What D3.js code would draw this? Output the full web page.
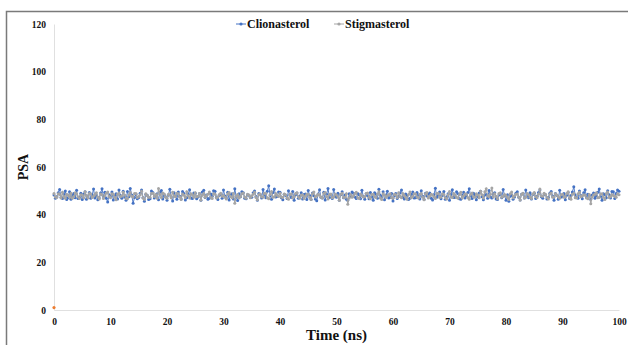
<!DOCTYPE html>
<html>
<head>
<meta charset="utf-8">
<script src="https://cdn.jsdelivr.net/npm/d3@7"></script>
<style>
  body { margin: 0; background: #fff; }
  text { font-family: "Liberation Serif", "DejaVu Serif", serif; font-weight: bold; }
</style>
</head>
<body>
<div id="chart"></div>
<script>
// time axis: 0..100 ns, sampled every 0.25 ns
const timeStep = 0.25;

const clionasterol = [
  48.2,46.9,47.5,49.2,50.6,47.3,46.8,48.5,49.9,46.4,47.1,49.6,46.5,48.0,48.9,47.1,50.2,46.8,47.3,49.0,
  46.4,48.7,49.6,46.5,47.8,49.3,46.9,48.2,50.8,47.0,48.1,46.3,47.0,49.1,50.9,47.6,49.4,46.9,45.3,48.4,
  47.6,49.5,46.2,47.9,48.8,46.6,50.3,48.0,46.9,49.8,47.4,46.1,49.7,47.5,51.0,48.3,44.8,47.2,48.6,46.7,
  47.2,49.0,50.4,47.1,45.6,48.5,48.1,46.4,46.7,49.9,49.3,47.0,47.9,48.8,46.3,49.4,50.1,46.6,48.4,47.5,
  46.0,48.3,50.7,47.4,45.7,49.2,47.8,46.5,49.5,47.7,46.6,49.7,48.9,46.2,47.1,48.6,50.5,47.0,46.8,49.1,
  49.0,46.7,47.4,48.9,46.1,49.5,50.2,47.2,48.3,46.5,46.9,48.7,47.7,50.0,49.8,47.3,46.4,48.1,48.6,46.9,
  50.3,47.8,47.0,49.4,46.2,48.3,48.8,46.6,50.9,47.4,45.9,48.8,47.5,49.6,49.2,46.9,46.7,48.4,48.1,47.2,
  47.3,49.2,49.9,47.6,46.0,48.9,48.4,47.0,50.6,48.2,47.1,49.8,52.1,48.0,46.5,49.3,50.8,47.4,47.6,49.5,
  49.4,47.1,46.3,48.6,48.0,46.8,50.0,48.3,47.2,49.7,46.1,48.4,49.1,46.9,47.8,49.2,46.6,48.5,48.7,46.4,
  50.1,48.0,46.4,49.1,47.9,46.6,45.8,48.7,50.5,47.3,47.0,49.4,46.2,48.6,51.0,47.2,48.5,46.8,50.6,47.9,
  47.3,49.0,46.0,48.4,49.6,47.1,48.2,46.5,45.9,48.8,47.7,49.5,49.0,47.4,46.8,48.9,48.4,46.7,50.2,47.6,
  46.5,48.8,47.9,46.7,49.3,47.6,46.1,49.2,48.6,46.9,50.7,48.1,47.4,49.6,46.3,48.2,49.8,47.0,47.2,48.9,
  45.7,47.9,48.9,46.8,47.6,49.1,50.4,47.3,46.6,48.7,48.0,46.4,46.9,48.5,49.5,47.0,47.1,49.3,48.3,46.6,
  50.0,47.7,46.4,49.0,47.8,48.6,49.1,46.9,46.2,48.4,51.1,47.3,48.1,49.5,46.7,48.0,49.7,46.5,47.5,48.8,
  46.0,48.5,50.5,47.2,47.3,49.6,48.8,46.7,46.5,48.1,49.4,47.0,47.9,49.3,50.9,47.8,46.8,49.0,48.2,46.3,
  47.6,49.1,49.8,47.5,46.3,48.2,48.5,46.9,50.1,47.4,47.0,48.8,49.2,46.6,46.4,48.3,48.7,47.1,50.6,48.0,
  46.1,48.4,45.6,47.7,48.3,46.5,47.4,49.0,49.6,47.3,46.2,48.6,48.9,47.0,50.3,48.1,47.1,49.2,46.6,48.5,
  49.0,46.8,47.7,49.3,50.4,47.5,46.9,48.7,48.4,46.6,47.3,49.0,49.7,47.8,46.0,48.9,48.1,46.5,50.2,47.4,
  47.5,48.9,46.3,48.1,49.3,46.8,48.0,49.5,51.7,48.3,47.2,46.9,49.9,48.0,46.7,49.2,50.5,47.3,48.6,47.9,
  46.4,48.2,49.1,46.9,47.8,49.4,50.8,47.6,46.1,48.8,48.5,47.1,50.0,48.4,47.0,49.7,49.6,46.8,48.9,50.3,
  49.8
];

const stigmasterol = [
  48.9,47.4,47.2,48.8,48.5,47.0,49.4,47.6,46.9,48.6,48.1,47.3,49.0,46.9,47.5,49.2,48.7,47.5,46.8,48.4,
  48.3,47.1,49.6,48.0,47.0,48.9,48.8,47.2,47.7,48.5,49.2,47.4,46.6,48.7,48.4,46.8,47.9,49.0,49.5,47.6,
  47.1,48.8,48.6,47.3,46.3,48.6,49.1,47.5,47.8,49.4,48.2,46.9,46.7,48.3,49.3,47.7,47.4,48.9,48.9,47.2,
  47.6,48.4,49.8,47.0,46.5,48.8,48.0,47.3,47.3,48.9,49.0,47.6,48.5,46.9,51.0,48.5,47.2,49.1,48.7,47.4,
  46.9,48.6,48.3,47.1,49.4,47.8,47.5,49.0,48.8,47.4,46.4,48.7,48.1,47.2,49.6,47.9,47.0,48.8,48.4,47.3,
  49.2,47.5,47.7,48.9,46.2,48.1,48.9,47.3,47.9,48.6,49.5,47.2,46.8,48.8,48.6,47.0,47.4,48.5,49.0,47.7,
  48.0,47.3,46.6,48.7,49.3,47.6,47.1,48.9,44.8,47.7,48.5,47.0,47.6,48.8,49.1,47.4,46.9,48.6,48.2,47.1,
  47.8,48.6,49.4,47.2,46.3,48.4,48.7,47.5,47.3,49.0,48.9,47.1,46.7,48.5,49.7,47.3,47.5,48.9,48.1,47.6,
  49.0,47.4,47.2,48.7,48.4,47.1,46.5,48.5,48.8,47.0,47.6,48.9,49.2,47.5,46.9,48.2,48.3,46.8,47.7,48.6,
  48.6,47.2,46.4,48.8,49.5,47.4,47.9,48.6,48.1,47.3,47.0,48.9,49.3,47.6,46.6,48.4,48.7,47.1,47.4,48.7,
  48.2,47.5,46.1,48.6,49.0,47.2,47.3,48.8,44.4,47.0,48.5,47.3,47.8,48.9,49.4,47.1,46.8,48.7,48.0,47.4,
  47.5,48.9,49.1,47.3,46.7,48.5,48.6,47.4,47.2,48.7,49.6,47.0,46.4,48.8,48.3,47.2,47.9,48.4,48.8,47.1,
  46.9,48.6,48.4,47.2,49.2,47.7,47.1,48.9,48.0,47.3,46.5,48.5,49.5,47.1,47.6,48.8,48.7,47.4,47.0,48.6,
  48.9,47.3,46.3,48.7,49.3,47.0,47.7,48.6,48.2,47.5,46.8,48.9,49.0,47.2,47.4,48.8,48.5,47.1,46.6,48.4,
  49.7,47.4,47.2,48.9,48.1,47.3,46.9,48.5,49.4,47.0,47.8,48.7,48.6,47.2,46.5,48.6,49.1,47.5,47.3,48.8,
  48.3,47.1,49.8,48.4,47.0,49.6,50.9,47.9,47.5,48.6,51.2,47.4,48.8,47.7,46.7,48.9,49.2,47.3,47.6,48.5,
  48.0,47.2,46.4,48.8,49.5,47.1,47.9,48.6,48.7,47.4,46.2,48.5,49.0,47.0,47.3,48.9,48.4,47.3,46.8,48.7,
  49.3,47.6,47.1,48.6,50.8,47.8,47.7,49.0,48.5,47.2,46.6,48.7,49.1,47.3,47.4,48.8,48.2,47.5,46.9,48.4,
  48.6,47.3,47.5,48.9,49.6,47.2,46.5,48.6,48.9,47.1,47.0,48.8,49.4,47.5,47.8,48.4,48.1,47.0,46.7,48.5,
  44.6,47.4,48.3,48.6,49.2,47.1,47.2,48.7,48.8,47.3,46.4,48.9,49.5,47.2,47.6,48.5,48.0,47.7,47.3,48.8,
  48.4
];

// stray single point of a third series at the origin
const thirdSeries = [[0, 1]];

const xTicks = [0, 10, 20, 30, 40, 50, 60, 70, 80, 90, 100];
const yTicks = [0, 20, 40, 60, 80, 100, 120];

const W = 628, H = 345;
const margin = {top: 24, right: 9, bottom: 35, left: 54};
const width = W - margin.left - margin.right,
      height = H - margin.top - margin.bottom;

const svg = d3.select('#chart').append('svg')
    .attr('width', W).attr('height', H);

// outer frame (runs off the right/bottom of the picture)
svg.append('rect')
    .attr('x', 6.5).attr('y', 11.5)
    .attr('width', 700).attr('height', 400)
    .attr('fill', 'none').attr('stroke', '#7a7a7a').attr('stroke-width', 1.5);

const g = svg.append('g')
    .attr('transform', 'translate(' + margin.left + ',' + margin.top + ')');

const x = d3.scaleLinear().domain([0, 100]).range([0, width]);
const y = d3.scaleLinear().domain([0, 120]).range([height, 0]);

const xAxis = g.append('g')
    .attr('transform', 'translate(0,' + height + ')')
    .call(d3.axisBottom(x).tickValues(xTicks).tickSize(0).tickPadding(8));
xAxis.select('.domain').attr('stroke', '#e0e0e0');
xAxis.selectAll('text').style('font-size', '9.5px').attr('fill', '#111');

const yAxis = g.append('g')
    .call(d3.axisLeft(y).tickValues(yTicks).tickSize(0).tickPadding(8));
yAxis.select('.domain').attr('stroke', '#e0e0e0');
yAxis.selectAll('text').style('font-size', '9.5px').attr('fill', '#111');

const toPts = arr => arr.map((v, i) => [i * timeStep, v]);
const series = [
  {name: 'Clionasterol', color: '#4472c4', values: toPts(clionasterol), lw: 0.9, r: 1.5},
  {name: 'Stigmasterol', color: '#a5a5a5', values: toPts(stigmasterol), lw: 1.1, r: 1.5}
];

const line = d3.line().x(d => x(d[0])).y(d => y(d[1]));

series.forEach(s => {
  const sg = g.append('g');
  sg.append('path')
      .attr('d', line(s.values))
      .attr('fill', 'none')
      .attr('stroke', s.color)
      .attr('stroke-width', s.lw);
  sg.selectAll('circle')
      .data(s.values)
      .enter()
      .append('circle')
      .attr('cx', d => x(d[0]))
      .attr('cy', d => y(d[1]))
      .attr('r', s.r)
      .attr('fill', s.color);
});

g.selectAll('.third')
    .data(thirdSeries)
    .enter()
    .append('circle')
    .attr('cx', d => x(d[0]))
    .attr('cy', d => y(d[1]))
    .attr('r', 1.6)
    .attr('fill', '#ed7d31');

// legend
const legX = [236, 334];
series.forEach((s, i) => {
  const lg = svg.append('g').attr('transform', 'translate(' + legX[i] + ',24)');
  lg.append('line').attr('x1', 0).attr('x2', 10).attr('y1', 0).attr('y2', 0)
      .attr('stroke', s.color).attr('stroke-width', 1);
  lg.append('circle').attr('cx', 5).attr('cy', 0).attr('r', 1.6).attr('fill', s.color);
  lg.append('text').attr('x', 11).attr('y', 4)
      .style('font-size', '12px').attr('fill', '#111').text(s.name);
});

// axis titles
svg.append('text')
    .attr('x', margin.left + width / 2).attr('y', 340)
    .attr('text-anchor', 'middle')
    .style('font-size', '15px').attr('fill', '#111')
    .text('Time (ns)');

svg.append('text')
    .attr('transform', 'translate(28,167) rotate(-90)')
    .attr('text-anchor', 'middle')
    .style('font-size', '14px').attr('fill', '#111')
    .text('PSA');
</script>
</body>
</html>
